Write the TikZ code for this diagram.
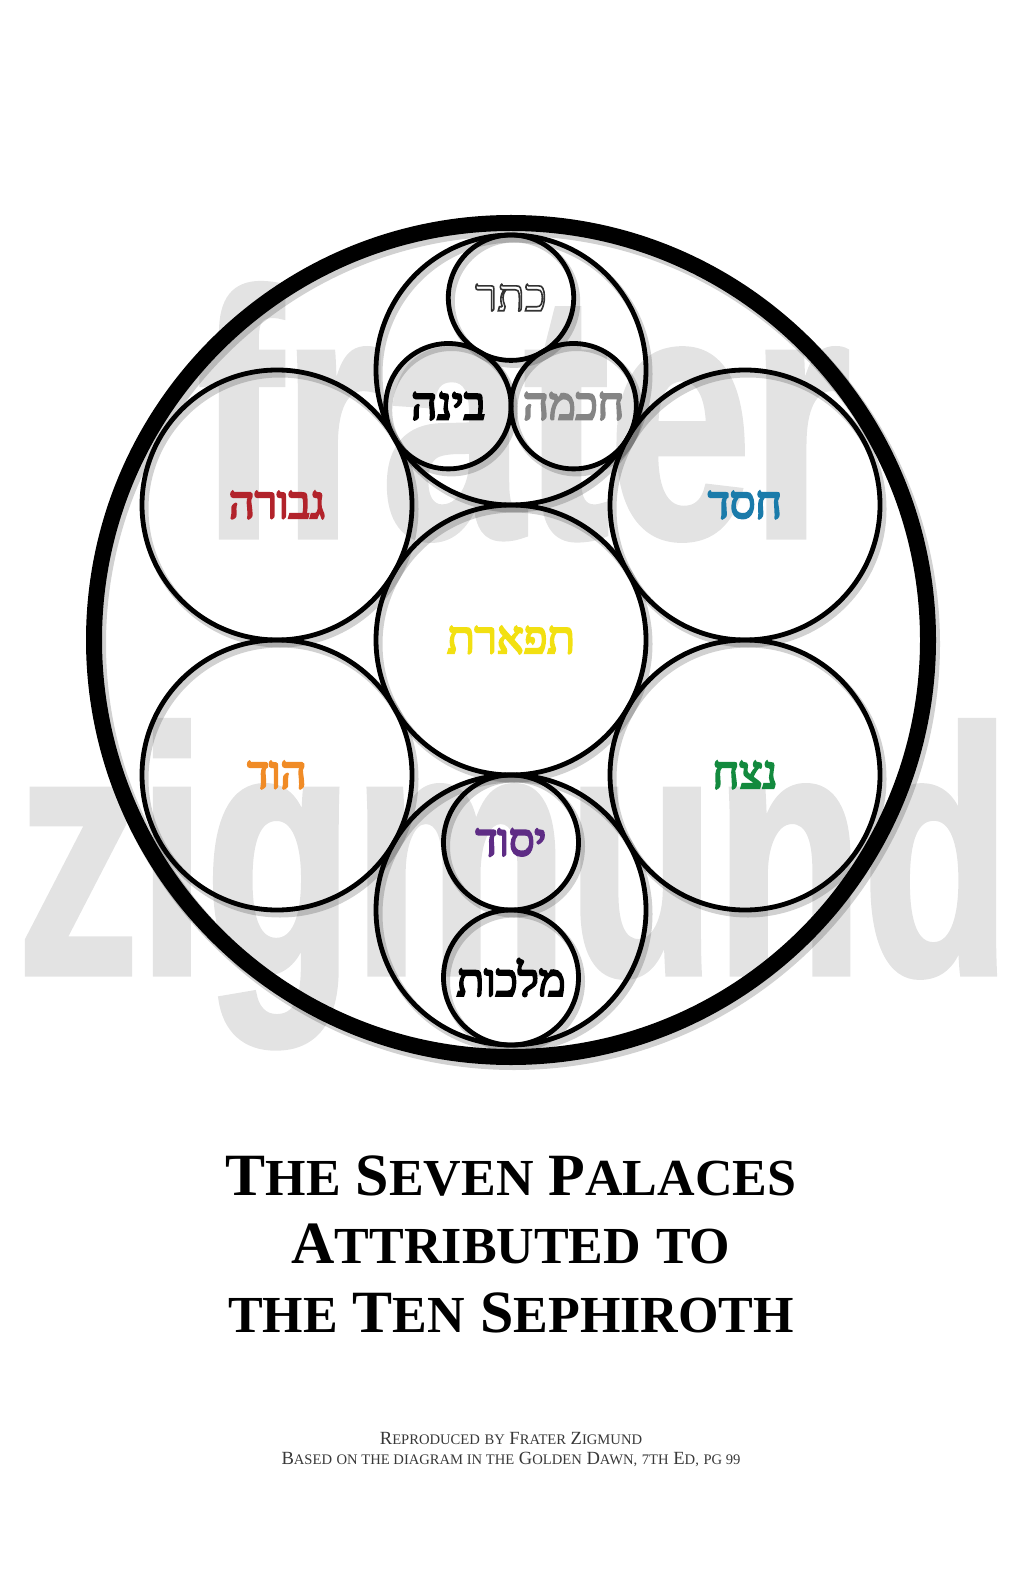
\documentclass[tikz,border=0pt]{standalone}
\usepackage{fontspec}
\usepackage{xcolor}
\usetikzlibrary{shadows}
\setmainfont{Liberation Serif}
\newfontfamily\hebfont[Script=Hebrew]{Liberation Serif}
\newfontfamily\markfont[FakeStretch=0.73]{Liberation Sans}
\newfontfamily\markfontz[FakeStretch=0.69]{Liberation Sans}
\TeXXeTstate=1
\definecolor{MarkGray}{HTML}{E3E3E3}
\definecolor{ChokmahGray}{HTML}{858585}
\definecolor{ChesedBlue}{HTML}{1A7BAA}
\definecolor{GevurahRed}{HTML}{B2232B}
\definecolor{TiferetYellow}{HTML}{F2E011}
\definecolor{NetzachGreen}{HTML}{138A3E}
\definecolor{HodOrange}{HTML}{F08B26}
\definecolor{YesodPurple}{HTML}{5E2C85}
\definecolor{FootGray}{HTML}{383838}
% heavier glyphs: fill and stroke the text
\newcommand{\heavy}[2]{\special{pdf:literal direct #1 w 2 Tr}#2\special{pdf:literal direct 0 Tr}}
\newcommand{\hebname}[1]{\heavy{1.1}{\beginR #1\endR}}
\newcommand{\outlined}[1]{\special{pdf:literal direct 0.2 0.2 0.2 RG 0.8 w 2 Tr}\beginR #1\endR\special{pdf:literal direct 0 Tr}}
\newcommand{\tcap}[2]{#1{\fontsize{26}{26}\selectfont #2}}
\newcommand{\fcap}[2]{#1{\fontsize{7.3}{7.3}\selectfont #2}}

\begin{document}
\begin{tikzpicture}[x=0.5pt, y=-0.5pt,
    ringshadow/.style={general shadow={shadow xshift=1.5pt, shadow yshift=-2pt, draw=black, opacity=0.18, line width=#1}},
    palace/.style={circle, draw, line width=2.4pt, inner sep=0pt, minimum size=135pt, ringshadow=3.5pt,
      font={\hebfont\fontsize{22.5}{22.5}\selectfont}},
    watermark/.style={anchor=base, inner sep=0pt, text=MarkGray},
    title/.style={anchor=base, inner sep=0pt, font={\bfseries\fontsize{30}{30}\selectfont}},
    foot/.style={anchor=base, inner sep=0pt, text=FootGray, font={\fontsize{9.3}{9.3}\selectfont}}]
  \useasboundingbox (0,0) rectangle (1024,1582);
  % Watermark
  \node[watermark, font={\markfont\bfseries\fontsize{175}{175}\selectfont}] (frater) at (524,537) {\heavy{2.5}{frater}};
  \node[watermark, font={\markfontz\bfseries\fontsize{175}{175}\selectfont}] (zigmund) at (514,974) {\heavy{2.5}{zigmund}};
  % Outer circle
  \node[circle, draw, line width=8pt, inner sep=0pt, minimum size=417pt, ringshadow=9pt] (world) at (511,640) {};
  % Seven palaces
  \node[palace] (supernal) at (511,370) {};
  \node[palace, text=GevurahRed] (gevurah) at (277,505) {\hebname{גבורה}};
  \node[palace, text=ChesedBlue] (chesed) at (745,505) {\hebname{חסד}};
  \node[palace, text=TiferetYellow] (tiferet) at (511,640) {\hebname{תפארת}};
  \node[palace, text=HodOrange] (hod) at (277,775) {\hebname{הוד}};
  \node[palace, text=NetzachGreen] (netzach) at (745,775) {\hebname{נצח}};
  \node[palace] (lower) at (511,910) {};
  % Sephiroth inside the first and last palace
  \node[palace, minimum size=62.7pt, text=white] (keter) at (511,297.7) {\outlined{כתר}};
  \node[palace, minimum size=62.7pt] (binah) at (448.4,406.2) {\hebname{בינה}};
  \node[palace, minimum size=62.7pt, text=ChokmahGray] (chokmah) at (573.6,406.2) {\hebname{חכמה}};
  \node[palace, minimum size=67.5pt, text=YesodPurple] (yesod) at (511,842.5) {\hebname{יסוד}};
  \node[palace, minimum size=67.5pt] (malkuth) at (511,977.5) {\hebname{מלכות}};
  % Title
  \node[title] (line1) at (511,1195) {\tcap{T}{HE} \tcap{S}{EVEN} \tcap{P}{ALACES}};
  \node[title] (line2) at (511,1263) {\tcap{A}{TTRIBUTED} {\fontsize{26}{26}\selectfont TO}};
  \node[title] (line3) at (511,1332) {{\fontsize{26}{26}\selectfont THE} \tcap{T}{EN} \tcap{S}{EPHIROTH}};
  % Credits
  \node[foot] (credit) at (511,1444) {\fcap{R}{EPRODUCED} {\fontsize{7.3}{7.3}\selectfont BY} \fcap{F}{RATER} \fcap{Z}{IGMUND}};
  \node[foot] (source) at (511,1464) {\fcap{B}{ASED} {\fontsize{7.3}{7.3}\selectfont ON THE DIAGRAM IN THE} \fcap{G}{OLDEN} \fcap{D}{AWN,} {\fontsize{7.3}{7.3}\selectfont 7TH} \fcap{E}{D,} {\fontsize{7.3}{7.3}\selectfont PG 99}};
\end{tikzpicture}
\end{document}
